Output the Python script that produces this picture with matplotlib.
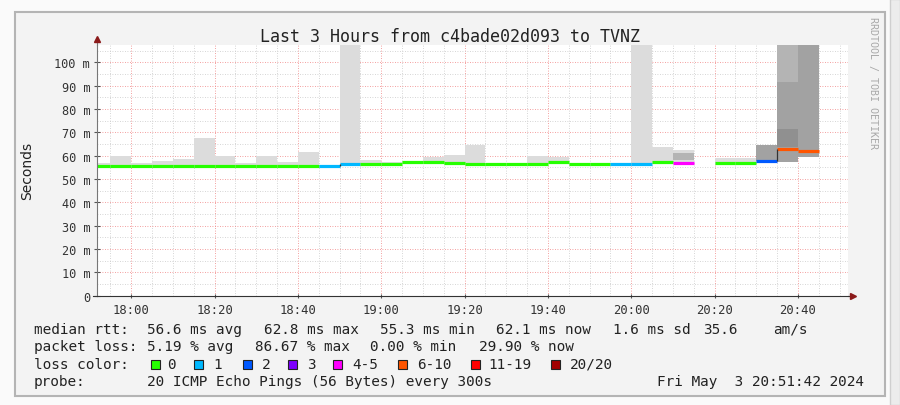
import numpy as np
import matplotlib
matplotlib.use("Agg")
import matplotlib.pyplot as plt
from matplotlib.patches import Rectangle

nan = np.nan

# 5 minute bins (start time of each bin)
bin_times = ["17:50", "17:55", "18:00", "18:05", "18:10", "18:15", "18:20",
             "18:25", "18:30", "18:35", "18:40", "18:45", "18:50", "18:55",
             "19:00", "19:05", "19:10", "19:15", "19:20", "19:25", "19:30",
             "19:35", "19:40", "19:45", "19:50", "19:55", "20:00", "20:05",
             "20:10", "20:15", "20:20", "20:25", "20:30", "20:35", "20:40"]

# median rtt in ms per bin
median = [55.4, 55.4, 55.4, 55.4, 55.4, 55.4, 55.4, 55.4, 55.4, 55.4, 55.4,
          55.4, 56.5, 56.5, 56.6, 57.2, 57.2, 56.8, 56.6, 56.5, 56.5, 56.5,
          57.1, 56.5, 56.5, 56.3, 56.5, 57.2, 57.0, nan, 56.9, 56.9, 57.6,
          62.9, 62.0]

# loss class per bin (index into loss_labels)
loss = [0, 0, 0, 0, 0, 0, 0, 0, 0, 0, 0, 1, 1, 0, 0, 0, 0, 0, 0, 0, 0, 0,
        0, 0, 0, 1, 1, 0, 4, -1, 0, 0, 2, 5, 5]

# smoke (ping spread) layers, ms
smoke_lo = [54.8, 54.8, 54.8, 54.8, 54.8, 54.8, 54.8, 54.8, 54.8, 54.8, 54.8,
            54.8, 55.8, 55.8, 55.9, 56.5, 56.5, 56.1, 55.9, 55.8, 55.8, 55.8,
            56.4, 55.8, 55.8, 55.6, 55.8, 56.5, 56.3, nan, 56.2, 56.2, 57.0,
            57.2, 59.6]
smoke_hi = [56.7, 59.9, 56.7, 57.9, 58.6, 67.6, 59.9, 56.7, 59.9, 57.2, 61.7,
            56.2, 110, 58.0, 57.4, 57.8, 59.6, 60.3, 64.8, 57.0, 57.0, 60.0,
            59.5, 57.0, 57.0, 56.8, 110, 63.6, 62.6, nan, 59.0, 59.0, 64.6,
            110, 110]
mid_lo = [nan] * 28 + [58.0, nan, nan, nan, nan, 57.2, nan]
mid_hi = [nan] * 28 + [61.0, nan, nan, nan, nan, 110, nan]
core_lo = [nan] * 32 + [57.6, 57.2, 59.6]
core_hi = [nan] * 32 + [64.6, 91.4, 110]
deep_lo = [nan] * 33 + [63.6, nan]
deep_hi = [nan] * 33 + [71.5, nan]

loss_labels = ["0", "1", "2", "3", "4-5", "6-10", "11-19", "20/20"]
loss_colors = ["#26ff00", "#00b8ff", "#0059ff", "#7e00ff", "#ff00ff",
               "#ff5500", "#ff0000", "#a10000"]

rtt_stats = [56.6, 62.8, 55.3, 62.1, 1.6]
rtt_am = 35.6
loss_stats = [5.19, 86.67, 0.00, 29.90]

tick_times = ["18:00", "18:20", "18:40", "19:00", "19:20", "19:40",
              "20:00", "20:20", "20:40"]


def minutes(t):
    h, m = t.split(":")
    return (int(h) - 18) * 60 + int(m)


x = np.array([minutes(t) for t in bin_times], dtype=float)
W, H = 900, 406
MONO = "DejaVu Sans Mono"


def px(xp, yp):
    return xp / W, 1 - yp / H


fig = plt.figure(figsize=(W / 100, H / 100), dpi=100)
fig.patch.set_facecolor("#fafafa")
fig.add_artist(Rectangle(px(15, 397), 870 / W, 384 / H, transform=fig.transFigure,
                         facecolor="#f3f3f3", edgecolor="#b4b4b4", lw=1.5, zorder=0))
fig.add_artist(Rectangle(px(890, 406), 10 / W, 1, transform=fig.transFigure,
                         facecolor="#ececec", edgecolor="#cfcfcf", lw=1, zorder=0))

ax = fig.add_axes([97 / W, 1 - 296.7 / H, 751 / W, 250.7 / H])
ax.set_facecolor("white")


def smoke(lo, hi, color):
    lo = np.array(lo, dtype=float)
    hi = np.array(hi, dtype=float)
    ok = ~np.isnan(lo)
    ax.bar(x[ok], hi[ok] - lo[ok], bottom=lo[ok], width=5, align="edge",
           color=color, linewidth=0, zorder=2)


smoke(smoke_lo, smoke_hi, "#dcdcdc")
smoke(mid_lo, mid_hi, "#b4b4b4")
smoke(core_lo, core_hi, "#a2a2a2")
smoke(deep_lo, deep_hi, "#909090")

# median line coloured by loss
for i, (m, l) in enumerate(zip(median, loss)):
    if np.isnan(m):
        continue
    ax.hlines(m, x[i], x[i] + 5, color=loss_colors[l], lw=2.3, zorder=4)
    if i > 0 and not np.isnan(median[i - 1]) and abs(median[i - 1] - m) > 1:
        ax.vlines(x[i], median[i - 1], m, color="#333333", lw=0.9, zorder=4)

ax.set_xlim(-8.2, 172)
ax.set_ylim(0, 107.45)

major_x = [minutes(t) for t in tick_times]
ax.set_xticks(major_x)
ax.set_xticklabels(tick_times)
ax.set_xticks(np.arange(-5, 172, 5), minor=True)
ax.set_yticks(np.arange(0, 101, 10))
ax.set_yticklabels(["0"] + ["%d m" % v for v in range(10, 101, 10)])
ax.set_yticks(np.arange(5, 106, 10), minor=True)

ax.grid(which="minor", color="#c8c8c8", linestyle=(0, (1, 2)), lw=0.6, zorder=1)
ax.grid(which="major", color="#f08080", linestyle=(0, (1, 2)), lw=0.6, zorder=1)
ax.set_axisbelow(True)

for lab in ax.get_xticklabels() + ax.get_yticklabels():
    lab.set_family(MONO)
    lab.set_color("#333333")
ax.tick_params(axis="x", which="major", labelsize=8.8, length=3, direction="inout",
               pad=4, color="#555555")
ax.tick_params(axis="y", which="major", labelsize=8.6, length=4, direction="inout",
               pad=3, color="#555555")
ax.tick_params(which="minor", length=0)

for s in ["top", "right"]:
    ax.spines[s].set_visible(False)
ax.spines["left"].set_color("#777777")
ax.spines["bottom"].set_color("#333333")
ax.spines["left"].set_zorder(5)
ax.spines["bottom"].set_zorder(5)

# axis arrows
ax.plot([0, 0], [1, 1.022], transform=ax.transAxes, color="#777777", lw=0.8, clip_on=False)
ax.plot([1, 1.006], [0, 0], transform=ax.transAxes, color="#333333", lw=0.8, clip_on=False)
ax.plot([-0.005, 0], [0, 0], transform=ax.transAxes, color="#333333", lw=0.8, clip_on=False)
ax.plot(0, 1.024, marker="^", ms=5, color="#8b1a1a", transform=ax.transAxes, clip_on=False)
ax.plot(1.0067, 0, marker=">", ms=5, color="#8b1a1a", transform=ax.transAxes, clip_on=False)

fig.text(*px(450, 37), "Last 3 Hours from c4bade02d093 to TVNZ", family=MONO,
         fontsize=12, ha="center", va="center", color="#222222")
fig.text(*px(27, 171), "Seconds", fontsize=10, rotation=90, ha="center",
         va="center", color="#222222")
fig.text(*px(873, 17), "RRDTOOL / TOBI OETIKER", family=MONO, fontsize=7.2,
         rotation=270, ha="center", va="top", color="#a8a8a8")

fs = 10.4
tc = "#222222"


def row(y, items):
    for xp, s in items:
        fig.text(*px(xp, y), s, family=MONO, fontsize=fs, ha="left",
                 va="center", color=tc)


row(330, [(34, "median rtt:"),
          (146.7, "%.1f ms avg" % rtt_stats[0]),
          (264, "%.1f ms max" % rtt_stats[1]),
          (380, "%.1f ms min" % rtt_stats[2]),
          (496, "%.1f ms now" % rtt_stats[3]),
          (612.7, "%.1f ms sd" % rtt_stats[4]),
          (703.3, "%.1f" % rtt_am),
          (773.3, "am/s")])
row(347.3, [(34, "packet loss:"),
            (146.7, "%.2f %% avg" % loss_stats[0]),
            (255, "%.2f %% max" % loss_stats[1]),
            (370, "%.2f %% min" % loss_stats[2]),
            (479.3, "%.2f %% now" % loss_stats[3])])

sq_x = [150.7, 194, 242.7, 288.3, 333.3, 398.3, 470.7, 550.7]
lab_x = [166.7, 213, 261.7, 306.7, 352.7, 416.7, 488.3, 570]
row(365, [(34, "loss color:")] + list(zip(lab_x, loss_labels)))
for sx, c in zip(sq_x, loss_colors):
    fig.add_artist(Rectangle(px(sx, 369.5), 9 / W, 9 / H, transform=fig.transFigure,
                             facecolor=c, edgecolor="#222222", lw=0.8))

row(381.7, [(34, "probe:"),
            (146.7, "20 ICMP Echo Pings (56 Bytes) every 300s")])
fig.text(*px(864, 381.7), "Fri May  3 20:51:42 2024", family=MONO, fontsize=fs,
         ha="right", va="center", color=tc)

fig.savefig("out.png", dpi=100, facecolor=fig.get_facecolor())
